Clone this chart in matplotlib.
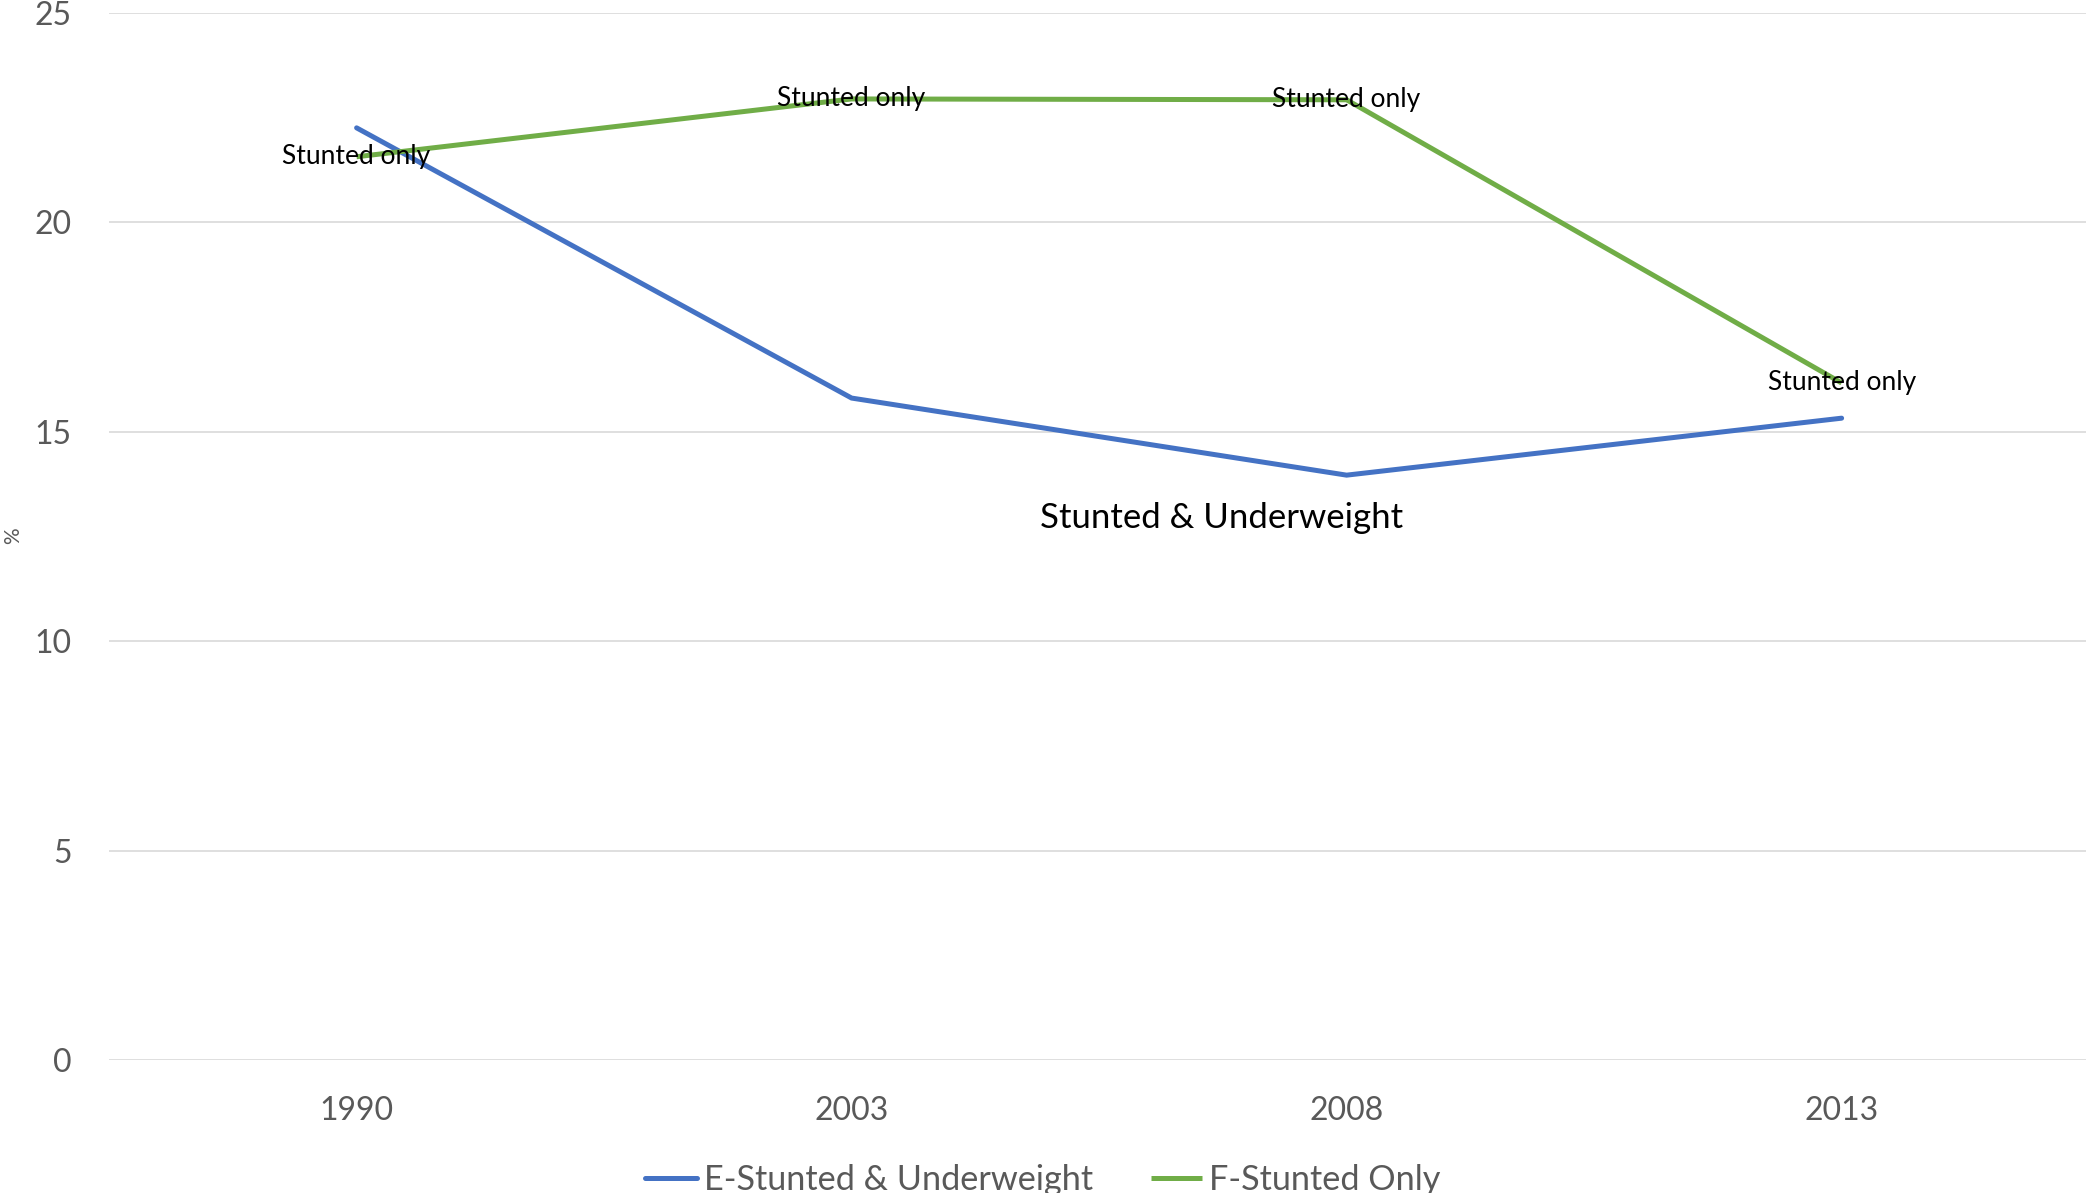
import matplotlib
matplotlib.use("Agg")
import matplotlib.pyplot as plt

plt.rcParams['font.family'] = ['Lato', 'DejaVu Sans']

# Survey years and prevalence (%) for each group
years = ["1990", "2003", "2008", "2013"]
stunted_underweight = [22.25, 15.8, 13.96, 15.32]
stunted_only = [21.56, 22.94, 22.92, 16.16]
series_names = ["E-Stunted & Underweight", "F-Stunted Only"]
point_label_stunted = "Stunted only"
point_label_both = "Stunted & Underweight"
y_ticks = [0, 5, 10, 15, 20, 25]

BLUE = "#4472C4"
GREEN = "#70AD47"
GREY_TEXT = "#595959"
GRID = "#D9D9D9"

fig = plt.figure(figsize=(20.86, 11.93), dpi=100)
ax = fig.add_axes([0.0523, 0.1115, 0.9492, 0.8779])

x = list(range(len(years)))
ax.plot(x, stunted_underweight, color=BLUE, lw=3.6, solid_capstyle="round",
        solid_joinstyle="miter", label=series_names[0], zorder=3)
ax.plot(x, stunted_only, color=GREEN, lw=3.6, solid_capstyle="butt",
        solid_joinstyle="miter", label=series_names[1], zorder=3)

# Data labels on the "stunted only" series, centred on each point
for xi, yi in zip(x, stunted_only):
    ax.annotate(point_label_stunted, xy=(xi, yi), xytext=(0, 0),
                textcoords="offset points", ha="center", va="center",
                fontsize=19, color="black", zorder=4)

# Single label for the combined series, anchored to its 2008 point
ax.annotate(point_label_both, xy=(x[2], stunted_underweight[2]),
            xytext=(-90, -31), textcoords="offset points",
            ha="center", va="center", fontsize=25, color="black", zorder=4)

ax.set_xlim(-0.5, len(years) - 0.5)
ax.set_ylim(0, 25)
ax.set_xticks(x)
ax.set_xticklabels(years)
ax.set_yticks(y_ticks)
ax.tick_params(axis="both", length=0, labelsize=23, labelcolor=GREY_TEXT)
ax.tick_params(axis="y", pad=27)
ax.tick_params(axis="x", pad=26)
ax.yaxis.grid(True, color=GRID, lw=1.2)
ax.set_axisbelow(True)
for sp in ax.spines.values():
    sp.set_visible(False)

fig.text(13 / 2086, 1 - 536 / 1193, "%", rotation=90, ha="center",
         va="center", fontsize=15, color=GREY_TEXT)

handles, labels = ax.get_legend_handles_labels()
fig.legend(handles, labels, loc="center", bbox_to_anchor=(0.5, 0.011),
           ncol=2, frameon=False, fontsize=24.7, labelcolor=GREY_TEXT,
           handlelength=1.5, handletextpad=0.2, columnspacing=1.7)

fig.savefig("out.png", dpi=100, facecolor="white")
